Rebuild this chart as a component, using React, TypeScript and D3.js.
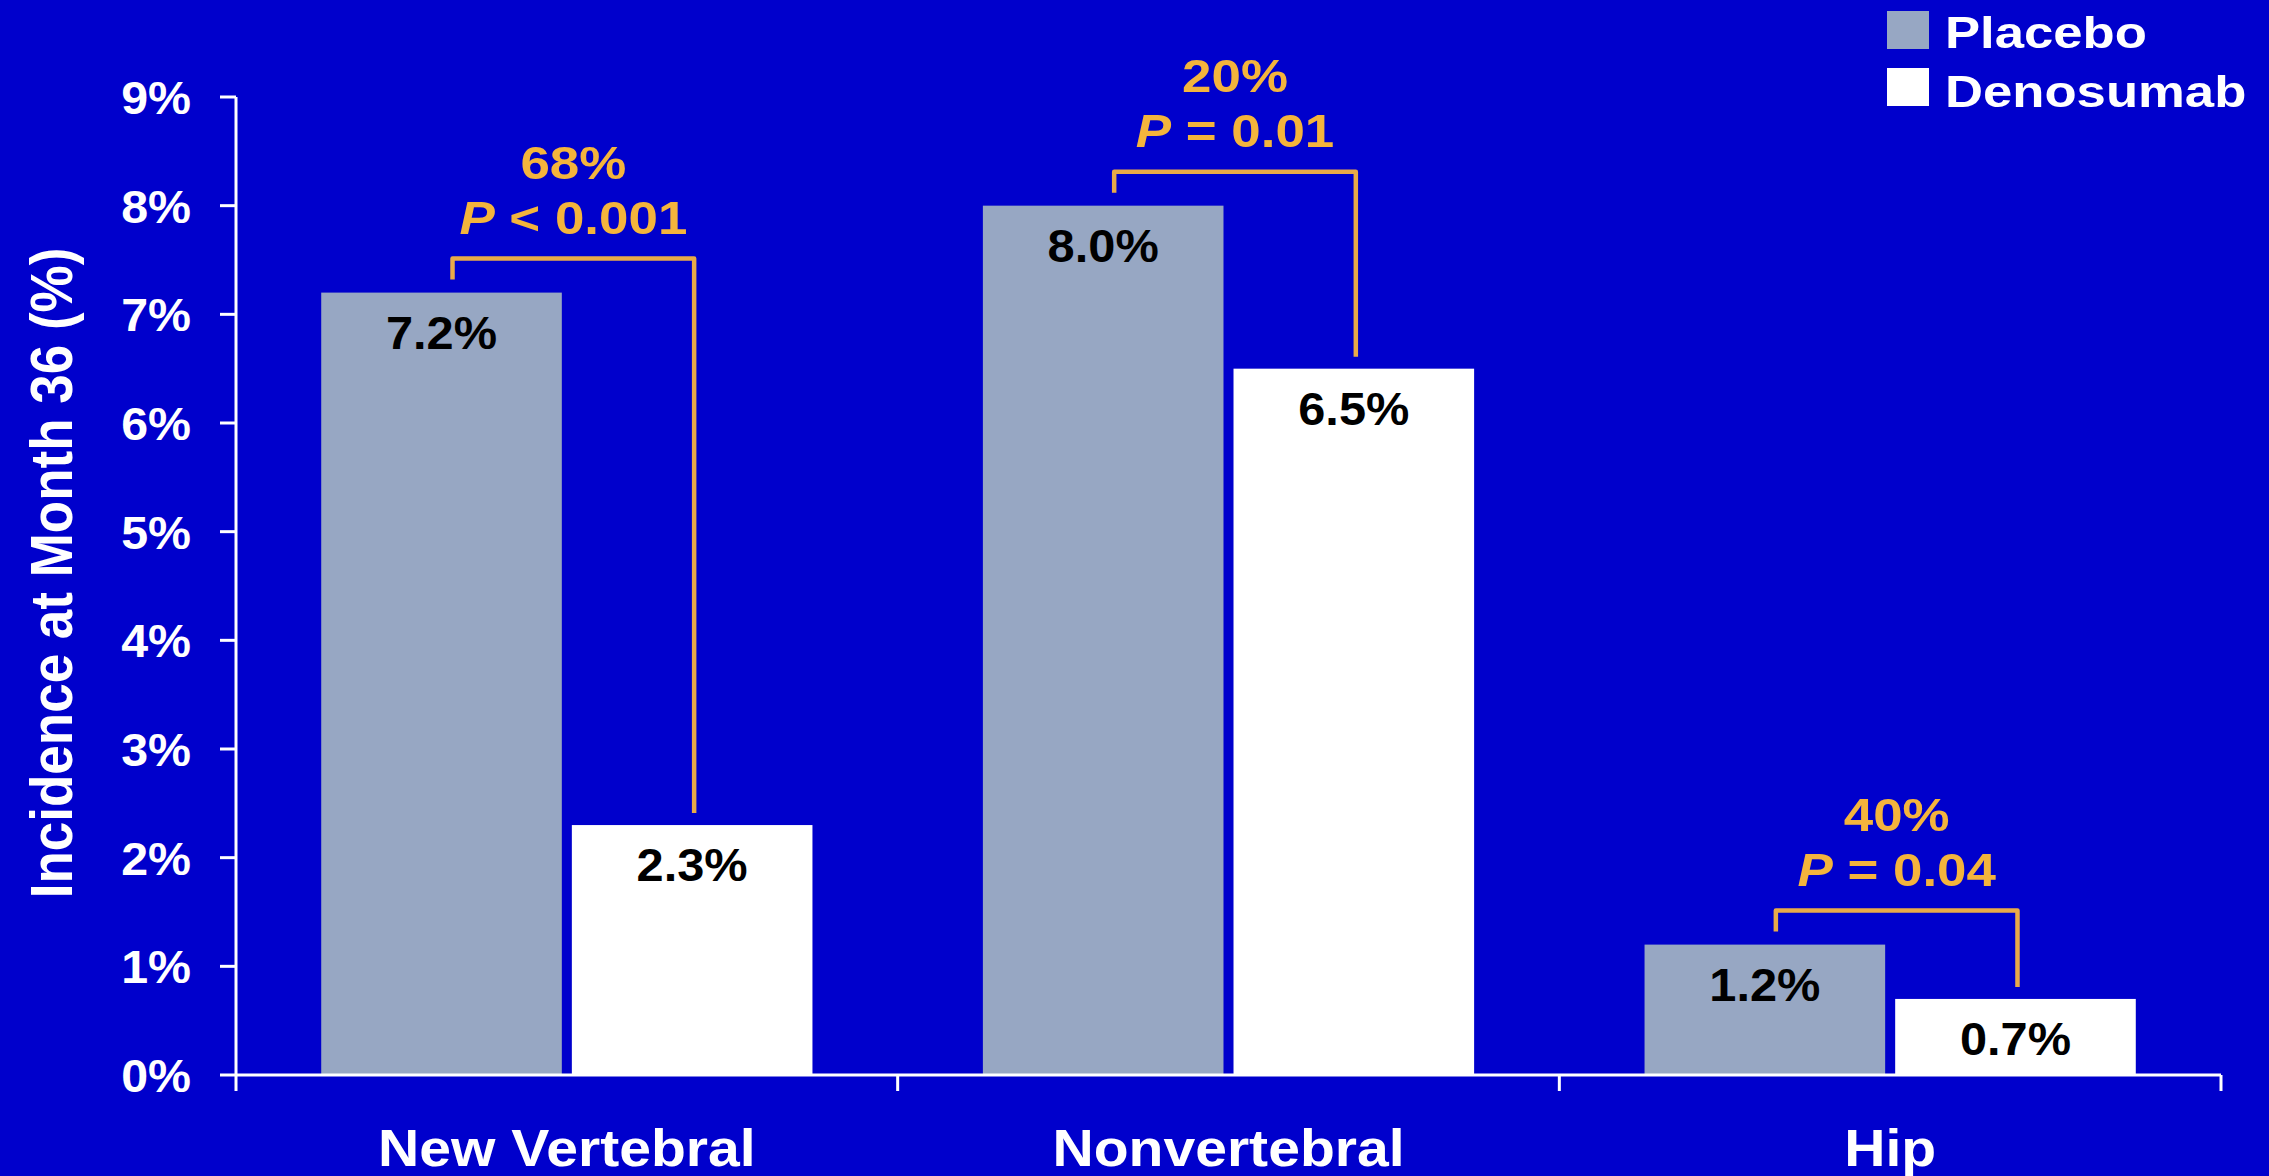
import React from "react";
import * as d3 from "d3";

// Fracture incidence at month 36 by treatment arm
const categories = ["New Vertebral", "Nonvertebral", "Hip"];
const seriesNames = ["Placebo", "Denosumab"];
const placeboValues = [7.2, 8.0, 1.2];
const denosumabValues = [2.3, 6.5, 0.7];
const reductionLabels = ["68%", "20%", "40%"];
const pOperators = ["<", "=", "="];
const pValues = ["0.001", "0.01", "0.04"];
const yTickValues = [0, 1, 2, 3, 4, 5, 6, 7, 8, 9];
const yAxisTitle = "Incidence at Month 36 (%)";

const W = 2269;
const H = 1176;
const BG = "#0000CC";
const PLACEBO_FILL = "#97A7C3";
const DENO_FILL = "#FFFFFF";
const ACCENT = "#F4B43C";
const BRACKET = "#E9AA48";
const FONT = "'Liberation Sans', Arial, Helvetica, sans-serif";

// text drawn with a slight horizontal widening around its anchor
function WideText(props: {
  x: number;
  y: number;
  sx?: number;
  size: number;
  fill: string;
  anchor?: "start" | "middle" | "end";
  children: React.ReactNode;
}) {
  const { x, y, sx = 1.1, size, fill, anchor = "middle", children } = props;
  return (
    <text
      transform={`translate(${x},${y}) scale(${sx},1)`}
      textAnchor={anchor}
      fontFamily={FONT}
      fontWeight="bold"
      fontSize={size}
      fill={fill}
    >
      {children}
    </text>
  );
}

export default function App() {
  const left = 236;
  const right = 2221;
  const y = d3.scaleLinear().domain([0, 9]).range([1075, 97]);
  const x0 = d3.scaleBand<string>().domain(categories).range([left, right]).padding(0);
  const x1 = d3
    .scaleBand<string>()
    .domain(seriesNames)
    .range([0, x0.bandwidth()])
    .paddingInner(0.04)
    .paddingOuter(0.34);
  const bw = x1.bandwidth();
  const valuesBySeries: Record<string, number[]> = {
    Placebo: placeboValues,
    Denosumab: denosumabValues,
  };
  const fills: Record<string, string> = { Placebo: PLACEBO_FILL, Denosumab: DENO_FILL };
  const fmt = (v: number) => `${v.toFixed(1)}%`;

  const boundaries = [...categories.map((c) => x0(c) as number), right];

  return (
    <svg
      width={W}
      height={H}
      style={{ position: "absolute", left: 0, top: 0, display: "block" }}
    >
      <rect x={0} y={0} width={W} height={H} fill={BG} />

      {/* bars */}
      {categories.map((c, i) =>
        seriesNames.map((s) => {
          const v = valuesBySeries[s][i];
          const bx = (x0(c) as number) + (x1(s) as number);
          return (
            <rect
              key={`${c}-${s}`}
              x={bx}
              y={y(v)}
              width={bw}
              height={y(0) - y(v)}
              fill={fills[s]}
            />
          );
        })
      )}

      {/* value labels */}
      {categories.map((c, i) =>
        seriesNames.map((s) => {
          const v = valuesBySeries[s][i];
          const cx = (x0(c) as number) + (x1(s) as number) + bw / 2;
          return (
            <WideText key={`lbl-${c}-${s}`} x={cx} y={y(v) + 56} size={46} sx={1.06} fill="#000000">
              {fmt(v)}
            </WideText>
          );
        })
      )}

      {/* y axis */}
      <line x1={left} x2={left} y1={y(9)} y2={y(0)} stroke="#FFFFFF" strokeWidth={3} />
      {yTickValues.map((t) => (
        <g key={`yt-${t}`}>
          <line x1={left - 16} x2={left} y1={y(t)} y2={y(t)} stroke="#FFFFFF" strokeWidth={3} />
          <WideText x={191} y={y(t) + 17} size={46} sx={1.05} anchor="end" fill="#FFFFFF">
            {`${t}%`}
          </WideText>
        </g>
      ))}

      {/* x axis */}
      <line x1={left} x2={right} y1={y(0)} y2={y(0)} stroke="#FFFFFF" strokeWidth={3} />
      {boundaries.map((bx, i) => (
        <line
          key={`xt-${i}`}
          x1={bx}
          x2={bx}
          y1={y(0)}
          y2={y(0) + 16}
          stroke="#FFFFFF"
          strokeWidth={3}
        />
      ))}
      {categories.map((c) => (
        <WideText
          key={`cat-${c}`}
          x={(x0(c) as number) + x0.bandwidth() / 2}
          y={1166}
          size={51}
          sx={1.12}
          fill="#FFFFFF"
        >
          {c}
        </WideText>
      ))}

      {/* y axis title */}
      <text
        transform={`translate(72,573) scale(1.12,1) rotate(-90)`}
        textAnchor="middle"
        fontFamily={FONT}
        fontWeight="bold"
        fontSize={53}
        fill="#FFFFFF"
      >
        {yAxisTitle}
      </text>

      {/* comparison brackets with reduction and P value */}
      {categories.map((c, i) => {
        const base = x0(c) as number;
        const lx = base + (x1("Placebo") as number) + bw / 2 + 11;
        const rx = base + (x1("Denosumab") as number) + bw / 2 + 2;
        const yp = y(placeboValues[i]);
        const yd = y(denosumabValues[i]);
        const top = Math.min(yp, yd) - 34;
        const mid = (lx + rx) / 2;
        const path = d3.path();
        path.moveTo(lx, yp - 13);
        path.lineTo(lx, top);
        path.lineTo(rx, top);
        path.lineTo(rx, yd - 12);
        return (
          <g key={`br-${c}`}>
            <path
              d={path.toString()}
              fill="none"
              stroke={BRACKET}
              strokeWidth={4.5}
              strokeLinejoin="round"
            />
            <WideText x={mid} y={top - 80} size={46} sx={1.15} fill={ACCENT}>
              {reductionLabels[i]}
            </WideText>
            <WideText x={mid} y={top - 25} size={46} sx={1.15} fill={ACCENT}>
              <tspan fontStyle="italic">P</tspan>
              {` ${pOperators[i]} ${pValues[i]}`}
            </WideText>
          </g>
        );
      })}

      {/* legend */}
      {seriesNames.map((s, i) => (
        <g key={`lg-${s}`}>
          <rect x={1887} y={11 + i * 57} width={42} height={38} fill={fills[s]} />
          <WideText x={1945} y={48 + i * 59} size={45} sx={1.17} anchor="start" fill="#FFFFFF">
            {s}
          </WideText>
        </g>
      ))}
    </svg>
  );
}
